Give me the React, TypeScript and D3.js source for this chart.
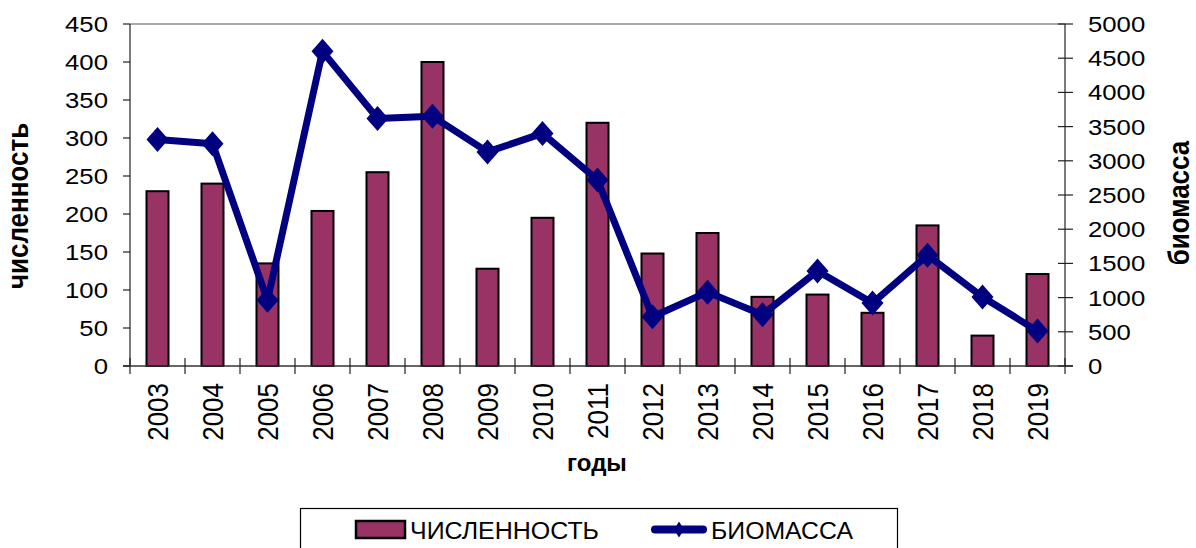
import React from "react";
import * as d3 from "d3";

const years = ["2003","2004","2005","2006","2007","2008","2009","2010","2011","2012","2013","2014","2015","2016","2017","2018","2019"];
const abundance = [230, 240, 135, 204, 255, 400, 128, 195, 320, 148, 175, 91, 94, 70, 185, 40, 121];
const biomass = [3310, 3250, 960, 4600, 3620, 3650, 3130, 3400, 2720, 720, 1080, 750, 1390, 920, 1620, 1010, 510];
const leftTicks = [0, 50, 100, 150, 200, 250, 300, 350, 400, 450];
const rightTicks = [0, 500, 1000, 1500, 2000, 2500, 3000, 3500, 4000, 4500, 5000];
const seriesNames = ["ЧИСЛЕННОСТЬ", "БИОМАССА"];
const axisTitles = { left: "численность", right: "биомасса", bottom: "годы" };

const W = 1196, H = 548;
const L = 130, R = 1065, T = 24, B = 366;
const BAR = "#993366";
const LINE = "#000080";
const FONT = "'Liberation Sans', Arial, sans-serif";
const SX = 1.17;

function diamond(cx: number, cy: number, hw: number, hh: number) {
  return `M${cx},${cy - hh}L${cx + hw},${cy}L${cx},${cy + hh}L${cx - hw},${cy}Z`;
}

export default function App() {
  const x = d3.scaleBand<string>().domain(years).range([L, R]).paddingInner(0.6).paddingOuter(0.3);
  const band = d3.scaleBand<string>().domain(years).range([L, R]).padding(0);
  const yL = d3.scaleLinear().domain([0, 450]).range([B, T]);
  const yR = d3.scaleLinear().domain([0, 5000]).range([B, T]);
  const cx = (d: string) => (band(d) as number) + band.bandwidth() / 2;
  const bw = x.bandwidth();
  const line = d3.line<number>().x((_, i) => cx(years[i])).y((v) => yR(v));

  return (
    <svg width={W} height={H} style={{ position: "absolute", left: 0, top: 0, background: "#fff" }} fontFamily={FONT}>
      <rect x={0} y={0} width={W} height={H} fill="#fff" />
      {/* top border */}
      <line x1={L} x2={R} y1={T} y2={T} stroke="#8c8c8c" strokeWidth={1.5} />
      {/* bars */}
      {years.map((yr, i) => (
        <rect key={yr} x={cx(yr) - bw / 2} y={yL(abundance[i])} width={bw} height={B - yL(abundance[i])}
          fill={BAR} stroke="#000" strokeWidth={2} />
      ))}
      {/* axes */}
      <line x1={L} x2={L} y1={T} y2={B} stroke="#222" strokeWidth={1.2} />
      <line x1={R} x2={R} y1={T} y2={B} stroke="#222" strokeWidth={1.2} />
      <line x1={L - 7} x2={R + 8} y1={B} y2={B} stroke="#333" strokeWidth={1.5} />
      {leftTicks.map((t) => (
        <g key={"l" + t}>
          <line x1={L - 7} x2={L} y1={yL(t)} y2={yL(t)} stroke="#222" strokeWidth={1.2} />
          <text transform={`translate(${L - 22},${yL(t)}) scale(${SX},1)`} textAnchor="end" dy="0.36em" fontSize={22} fill="#000">{t}</text>
        </g>
      ))}
      {rightTicks.map((t) => (
        <g key={"r" + t}>
          <line x1={R - 7} x2={R + 8} y1={yR(t)} y2={yR(t)} stroke="#222" strokeWidth={1.2} />
          <text transform={`translate(${R + 23},${yR(t)}) scale(${SX},1)`} textAnchor="start" dy="0.36em" fontSize={22} fill="#000">{t}</text>
        </g>
      ))}
      {d3.range(years.length + 1).map((k) => {
        const xx = L + k * band.step();
        return <line key={"t" + k} x1={xx} x2={xx} y1={B - 8} y2={B + 8} stroke="#222" strokeWidth={1.2} />;
      })}
      {years.map((yr) => (
        <text key={"x" + yr} transform={`translate(${cx(yr)},383) rotate(-90) scale(1,${SX})`} textAnchor="end" dy="0.36em" fontSize={26} fill="#000">{yr}</text>
      ))}
      {/* line series */}
      <path d={line(biomass) as string} fill="none" stroke={LINE} strokeWidth={7} strokeLinejoin="round" />
      {biomass.map((v, i) => (
        <path key={"m" + i} d={diamond(cx(years[i]), yR(v), 11, 12.5)} fill={LINE} />
      ))}
      {/* axis titles */}
      <text transform={`translate(28,206) rotate(-90) scale(1,${SX})`} textAnchor="middle" fontSize={26} fontWeight="bold" fill="#000">{axisTitles.left}</text>
      <text transform={`translate(1189,203) rotate(-90) scale(1,${SX})`} textAnchor="middle" fontSize={26} fontWeight="bold" fill="#000">{axisTitles.right}</text>
      <text x={597} y={471} textAnchor="middle" fontSize={24} fontWeight="bold" fill="#000">{axisTitles.bottom}</text>
      {/* legend */}
      <rect x={300.5} y={508.5} width={597} height={60} fill="#fff" stroke="#000" strokeWidth={1.2} />
      <rect x={356} y={521} width={49} height={17} fill={BAR} stroke="#000" strokeWidth={2.5} />
      <text x={410} y={539} fontSize={23} textLength={189} lengthAdjust="spacingAndGlyphs" fill="#000">{seriesNames[0]}</text>
      <line x1={655} x2={703} y1={529.5} y2={529.5} stroke={LINE} strokeWidth={8} strokeLinecap="round" />
      <path d={diamond(679, 529.5, 5, 8)} fill={LINE} />
      <text x={711} y={539} fontSize={23} textLength={142} lengthAdjust="spacingAndGlyphs" fill="#000">{seriesNames[1]}</text>
    </svg>
  );
}
